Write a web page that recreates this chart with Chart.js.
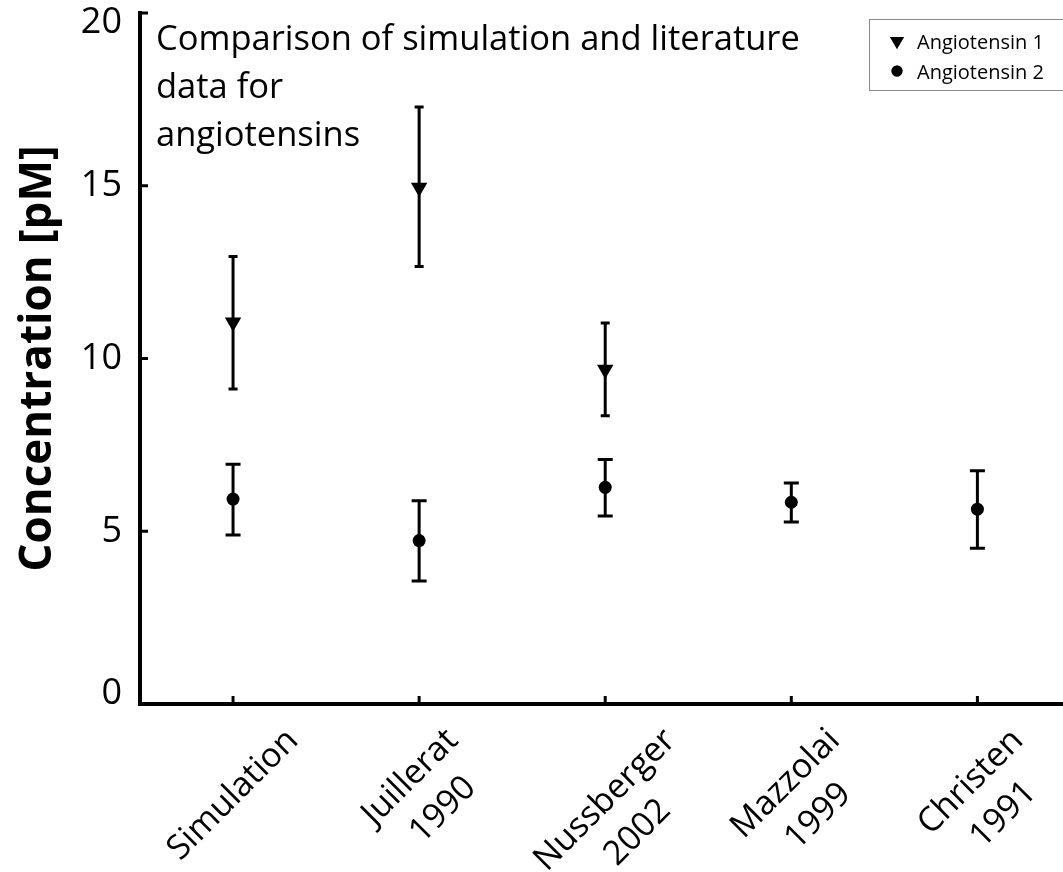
<!DOCTYPE html>
<html>
<head>
<meta charset="utf-8">
<script src="https://cdn.jsdelivr.net/npm/chart.js@4.4.0/dist/chart.umd.min.js"></script>
<style>
  html, body { margin: 0; padding: 0; background: #fff; }
  #wrap { width: 1063px; height: 872px; }
</style>
</head>
<body>
<div id="wrap"><canvas id="myChart"></canvas></div>
<script>
// data
const categories = [['Simulation'], ['Juillerat', '1990'], ['Nussberger', '2002'], ['Mazzolai', '1999'], ['Christen', '1991']];
const ang1Values = [11.05, 14.95, 9.68];
const ang1Low = [9.12, 12.66, 8.34];
const ang1High = [12.95, 17.28, 11.03];
const ang2Values = [5.93, 4.73, 6.27, 5.84, 5.64];
const ang2Low = [4.89, 3.56, 5.44, 5.27, 4.51];
const ang2High = [6.94, 5.88, 7.08, 6.40, 6.75];
const yTicks = [0, 5, 10, 15, 20];
const titleLines = ['Comparison of simulation and literature', 'data for', 'angiotensins'];

const FONT = "'Open Sans', 'Noto Sans', sans-serif";

const toPoints = vals => vals.map((v, i) => ({ x: i, y: v }));

// vertical error bars with caps, drawn under the markers
const errorBars = {
  id: 'errorBars',
  beforeDatasetsDraw(chart) {
    const { ctx, scales: { x, y } } = chart;
    ctx.save();
    ctx.strokeStyle = '#000';
    ctx.lineWidth = 3;
    chart.data.datasets.forEach(ds => {
      ds.data.forEach((p, i) => {
        const px = x.getPixelForValue(p.x);
        const lo = y.getPixelForValue(ds.errLow[i]);
        const hi = y.getPixelForValue(ds.errHigh[i]);
        const c = ds.capWidth / 2;
        ctx.beginPath();
        ctx.moveTo(px, lo); ctx.lineTo(px, hi);
        ctx.moveTo(px - c, lo); ctx.lineTo(px + c, lo);
        ctx.moveTo(px - c, hi); ctx.lineTo(px + c, hi);
        ctx.stroke();
      });
    });
    ctx.restore();
  }
};

// inward ticks, tick labels, inner title and boxed legend
const decorations = {
  id: 'decorations',
  afterDraw(chart) {
    const { ctx, chartArea, scales: { x, y } } = chart;
    ctx.save();
    ctx.strokeStyle = '#000';
    ctx.fillStyle = '#000';
    ctx.lineWidth = 3;

    // y ticks pointing into the plot
    yTicks.forEach(v => {
      if (v === 0) return;
      const py = y.getPixelForValue(v);
      ctx.beginPath();
      ctx.moveTo(chartArea.left, py);
      ctx.lineTo(chartArea.left + 8, py);
      ctx.stroke();
    });
    // x ticks pointing up
    categories.forEach((c, i) => {
      const px = x.getPixelForValue(i);
      ctx.beginPath();
      ctx.moveTo(px, chartArea.bottom);
      ctx.lineTo(px, chartArea.bottom - 8);
      ctx.stroke();
    });

    // y tick labels
    ctx.font = '36px ' + FONT;
    ctx.textAlign = 'right';
    ctx.textBaseline = 'middle';
    yTicks.forEach(v => {
      let py = y.getPixelForValue(v);
      py = Math.min(Math.max(py, chartArea.top + 10), chartArea.bottom - 10);
      ctx.fillText(String(v), 122, py);
    });

    // x labels rotated 45deg, bounding box centred under the tick
    const fs = 34, lh = 46, hh = fs * 0.38;
    const cs = Math.SQRT1_2;
    ctx.font = fs + 'px ' + FONT;
    ctx.textAlign = 'center';
    categories.forEach((lines, i) => {
      const px = x.getPixelForValue(i);
      const n = lines.length;
      let minX = Infinity, maxX = -Infinity, minY = Infinity;
      lines.forEach((t, k) => {
        const w = ctx.measureText(t).width / 2;
        const cy = (k - (n - 1) / 2) * lh;
        [[-w, cy - hh], [w, cy - hh], [-w, cy + hh], [w, cy + hh]].forEach(([a, b]) => {
          const rx = cs * (a + b), ry = cs * (b - a);
          minX = Math.min(minX, rx); maxX = Math.max(maxX, rx);
          minY = Math.min(minY, ry);
        });
      });
      const ox = px - (minX + maxX) / 2;
      const oy = 726 - minY;
      ctx.save();
      ctx.translate(ox, oy);
      ctx.rotate(-Math.PI / 4);
      lines.forEach((t, k) => {
        ctx.fillText(t, 0, (k - (n - 1) / 2) * lh);
      });
      ctx.restore();
    });

    // title inside the plot
    ctx.font = '34.5px ' + FONT;
    ctx.textAlign = 'left';
    ctx.textBaseline = 'alphabetic';
    titleLines.forEach((t, k) => ctx.fillText(t, 156, 50 + k * 48));

    // legend box
    ctx.lineWidth = 1;
    ctx.strokeStyle = '#888';
    ctx.strokeRect(869.5, 19.5, 210, 71);
    ctx.font = '20px ' + FONT;
    ctx.textBaseline = 'middle';
    chart.data.datasets.forEach((ds, k) => {
      const cy = 41 + k * 30;
      Chart.helpers.drawPoint(ctx, {
        pointStyle: ds.pointStyle,
        rotation: ds.rotation || 0,
        radius: ds.legendRadius,
        borderWidth: 0
      }, 897, cy);
      ctx.fillStyle = '#000';
      ctx.fill();
      ctx.fillText(ds.label, 917, cy + 2);
    });

    ctx.restore();
  }
};

new Chart('myChart', {
  type: 'scatter',
  data: {
    datasets: [{
      label: 'Angiotensin 1',
      data: toPoints(ang1Values),
      errLow: ang1Low,
      errHigh: ang1High,
      capWidth: 9,
      pointStyle: 'triangle',
      rotation: 180,
      pointRadius: 9.5,
      legendRadius: 8,
      backgroundColor: '#000',
      borderColor: '#000',
      borderWidth: 0
    }, {
      label: 'Angiotensin 2',
      data: toPoints(ang2Values),
      errLow: ang2Low,
      errHigh: ang2High,
      capWidth: 15,
      pointStyle: 'circle',
      pointRadius: 6.5,
      legendRadius: 5.5,
      backgroundColor: '#000',
      borderColor: '#000',
      borderWidth: 0
    }]
  },
  options: {
    responsive: true,
    maintainAspectRatio: false,
    animation: false,
    layout: { autoPadding: false, padding: { top: 13, right: 0, bottom: 0, left: 0 } },
    plugins: {
      legend: { display: false },
      tooltip: { enabled: false }
    },
    scales: {
      x: {
        type: 'linear',
        min: -0.5,
        max: 4.46,
        ticks: { display: false },
        grid: { display: false },
        border: { color: '#000', width: 4 },
        afterFit: s => { s.height = 168; }
      },
      y: {
        min: 0,
        max: 20,
        ticks: { display: false, stepSize: 5 },
        grid: { display: false },
        border: { color: '#000', width: 4 },
        title: {
          display: true,
          text: 'Concentration [pM]',
          color: '#000',
          font: { family: FONT, size: 44, weight: 'bold' },
          padding: { top: 12, bottom: 0 }
        },
        afterFit: s => { s.width = 140; }
      }
    }
  },
  plugins: [errorBars, decorations]
});
</script>
</body>
</html>
